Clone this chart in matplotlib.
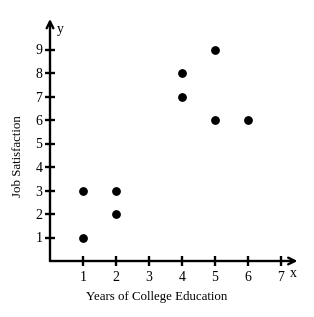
import matplotlib
matplotlib.use("Agg")
import matplotlib.pyplot as plt

x_years = [1, 1, 2, 2, 4, 4, 5, 5, 6]
y_satisfaction = [1, 3, 3, 2, 8, 7, 9, 6, 6]
x_ticks = [1, 2, 3, 4, 5, 6, 7]
y_ticks = [1, 2, 3, 4, 5, 6, 7, 8, 9]

plt.rcParams['font.family'] = ['Liberation Serif', 'DejaVu Serif']

W, H = 314, 317
fig = plt.figure(figsize=(W / 100, H / 100), dpi=100)
x0, y0 = 50, 261
ax = fig.add_axes([x0 / W, (H - y0) / H, 250 / W, 246 / H])
ax.set_xlim(0, 250 / 33.0)
ax.set_ylim(0, 246 / 23.5)
for s in ax.spines.values():
    s.set_visible(False)

arrow = dict(arrowstyle='->', lw=1.7, color='black', mutation_scale=12,
             shrinkA=0, shrinkB=0)
ax.annotate('', xy=(7.5, 0), xytext=(0, 0), arrowprops=arrow, annotation_clip=False)
ax.annotate('', xy=(0, 10.3), xytext=(0, 0), arrowprops=arrow, annotation_clip=False)

ax.set_xticks(x_ticks)
ax.set_yticks(y_ticks)
ax.tick_params(direction='inout', length=7, width=1.7, labelsize=10)
ax.tick_params(axis='x', pad=4)
ax.tick_params(axis='y', pad=2)

ax.scatter(x_years, y_satisfaction, s=28, color='black', zorder=3)

ax.text(7.36, -0.55, 'x', fontsize=10, ha='center', va='center')
ax.text(0.3, 9.83, 'y', fontsize=10, ha='center', va='center')

fig.text(157 / W, 1 - 297 / H, 'Years of College Education', fontsize=9.3, ha='center', va='center')
fig.text(18 / W, 1 - 156 / H, 'Job Satisfaction', fontsize=9.3, ha='center', va='center', rotation=90)

fig.savefig('out.png', dpi=100)
